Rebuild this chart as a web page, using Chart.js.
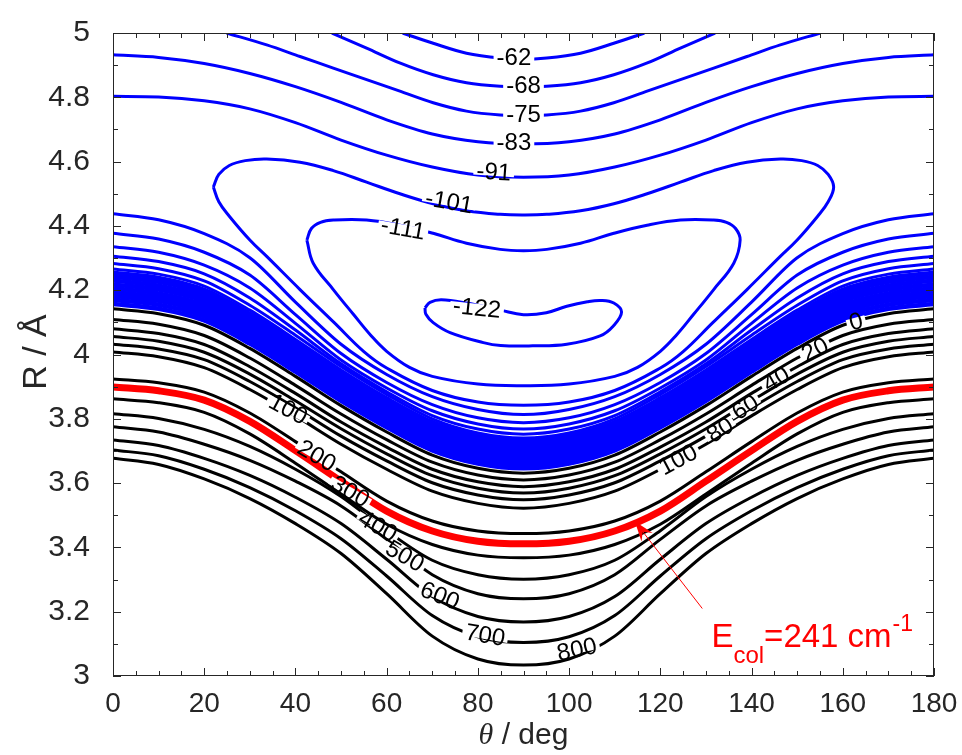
<!DOCTYPE html>
<html>
<head>
<meta charset="utf-8">
<script src="https://cdn.jsdelivr.net/npm/chart.js@4.4.0/dist/chart.umd.min.js"></script>
<style>
  body { margin: 0; background: #fff; }
  canvas { display: block; }
</style>
</head>
<body>
<canvas id="contours" width="962" height="755"></canvas>
<script>
// theta grid used by the open contours (deg)
const thetaGrid = [0,10,20,30,40,50,60,70,80,90,100,110,120,130,140,150,160,170,180];

// upper blue contours, partly leaving through the top edge
const thM62 = [63.5,70.2,77.5,84.9,90,95.1,102.5,109.8,116.5];
const rM62 = [5.0,4.968,4.937,4.922,4.918,4.922,4.937,4.968,5.0];
const thM68 = [48,55.6,63,70.2,77.5,84.9,90,95.1,102.5,109.8,117,124.4,132];
const rM68 = [5.0,4.953,4.906,4.870,4.845,4.834,4.832,4.834,4.845,4.870,4.906,4.953,5.0];
const thM75 = [24.9,33.7,41,48.3,55.6,62.9,70.2,77.5,84.9,90,95.1,102.5,109.8,117.1,124.4,131.7,139,146.3,155.1];
const rM75 = [5.0,4.963,4.927,4.891,4.855,4.819,4.783,4.757,4.745,4.743,4.745,4.757,4.783,4.819,4.855,4.891,4.927,4.963,5.0];
const rM83 = [4.932,4.924,4.905,4.874,4.833,4.784,4.730,4.686,4.662,4.655,4.662,4.686,4.730,4.784,4.833,4.874,4.905,4.924,4.932];
const rM91 = [4.803,4.801,4.789,4.764,4.721,4.667,4.620,4.583,4.558,4.551,4.558,4.583,4.620,4.667,4.721,4.764,4.789,4.801,4.803];

// closed loops (-101, -111, -122)
const thM101 = [22,23.2,25.5,29,33.7,41,48.3,55.6,62.9,70.2,77.5,84.9,90,95.1,102.5,109.8,117.1,124.4,131.7,139,146.3,151,154.5,156.8,158,
  156.8,154.5,150,146.3,139,131.5,125,120,110,100,90,80,70,60,55,48.5,41,33.7,30,25.5,23.2,22];
const rM101 = [4.521,4.560,4.588,4.603,4.608,4.598,4.572,4.536,4.500,4.469,4.447,4.436,4.434,4.436,4.447,4.469,4.500,4.536,4.572,4.598,4.608,4.603,4.588,4.560,4.521,
  4.475,4.430,4.356,4.305,4.202,4.099,4.009,3.958,3.888,3.852,3.842,3.852,3.888,3.958,4.009,4.099,4.202,4.305,4.356,4.430,4.475,4.521];
const thM111 = [42.5,43.5,45.5,48.3,55.6,62.9,70.2,77.5,84.9,90,95.1,102.5,109.8,117.1,124.4,131.7,134.5,136.5,137.5,
  136.1,131.7,127.3,123.5,120,115,110,100,90,80,70,65,60,56.5,52.7,48.3,43.9,42.5];
const rM111 = [4.356,4.392,4.411,4.418,4.418,4.402,4.377,4.346,4.327,4.323,4.327,4.346,4.377,4.402,4.418,4.418,4.411,4.392,4.356,
  4.284,4.202,4.125,4.060,4.010,3.960,3.932,3.908,3.903,3.908,3.932,3.960,4.010,4.060,4.125,4.202,4.284,4.356];
const thM122 = [68.4,69.5,72,77.5,84.9,90,95,99.5,104,107,109.8,111.5,109.7,106.8,99.5,92,85,81.2,73.9,70.2,68.6,68.4];
const rM122 = [4.145,4.162,4.170,4.160,4.138,4.124,4.130,4.150,4.164,4.168,4.160,4.132,4.089,4.058,4.032,4.027,4.028,4.037,4.068,4.099,4.125,4.145];

// lower blue open contours
const rB1 = [4.438,4.419,4.376,4.301,4.163,4.032,3.938,3.869,3.829,3.813,3.829,3.869,3.938,4.032,4.163,4.301,4.376,4.419,4.438];
const rB2 = [4.377,4.359,4.318,4.247,4.124,4.003,3.913,3.844,3.803,3.788,3.803,3.844,3.913,4.003,4.124,4.247,4.318,4.359,4.377];
const rB3 = [4.335,4.318,4.278,4.207,4.097,3.983,3.896,3.825,3.784,3.768,3.784,3.825,3.896,3.983,4.097,4.207,4.278,4.318,4.335];
const rB4 = [4.306,4.289,4.251,4.176,4.076,3.971,3.884,3.810,3.768,3.752,3.768,3.810,3.884,3.971,4.076,4.176,4.251,4.289,4.306];
const rB5 = [4.283,4.267,4.229,4.153,4.060,3.963,3.876,3.800,3.756,3.740,3.756,3.800,3.876,3.963,4.060,4.153,4.229,4.267,4.283];
const rB6 = [4.266,4.250,4.213,4.138,4.047,3.952,3.866,3.792,3.749,3.733,3.749,3.792,3.866,3.952,4.047,4.138,4.213,4.250,4.266];
// dense band just below zero
const rD1 = [4.254,4.238,4.201,4.127,4.038,3.942,3.858,3.784,3.742,3.726,3.742,3.784,3.858,3.942,4.038,4.127,4.201,4.238,4.254];
const rD2 = [4.242,4.226,4.189,4.116,4.026,3.932,3.847,3.774,3.732,3.716,3.732,3.774,3.847,3.932,4.026,4.116,4.189,4.226,4.242];
const rD3 = [4.230,4.214,4.178,4.104,4.015,3.921,3.837,3.764,3.722,3.706,3.722,3.764,3.837,3.921,4.015,4.104,4.178,4.214,4.230];
const rD4 = [4.218,4.202,4.166,4.093,4.004,3.910,3.826,3.753,3.712,3.696,3.712,3.753,3.826,3.910,4.004,4.093,4.166,4.202,4.218];
const rD5 = [4.206,4.190,4.154,4.081,3.993,3.899,3.816,3.743,3.702,3.686,3.702,3.743,3.816,3.899,3.993,4.081,4.154,4.190,4.206];
const rD6 = [4.194,4.178,4.142,4.070,3.982,3.888,3.805,3.733,3.692,3.676,3.692,3.733,3.805,3.888,3.982,4.070,4.142,4.178,4.194];
const rD7 = [4.182,4.167,4.130,4.058,3.970,3.878,3.795,3.723,3.681,3.666,3.681,3.723,3.795,3.878,3.970,4.058,4.130,4.167,4.182];
const rD8 = [4.170,4.155,4.119,4.047,3.959,3.867,3.784,3.713,3.671,3.656,3.671,3.713,3.784,3.867,3.959,4.047,4.119,4.155,4.170];
const rD9 = [4.157,4.142,4.106,4.034,3.947,3.856,3.774,3.702,3.661,3.646,3.661,3.702,3.774,3.856,3.947,4.034,4.106,4.142,4.157];

// black positive contours (cm-1)
const rK0 = [4.142,4.127,4.091,4.019,3.932,3.841,3.759,3.687,3.646,3.631,3.646,3.687,3.759,3.841,3.932,4.019,4.091,4.127,4.142];
const rK20 = [4.109,4.094,4.059,3.989,3.904,3.815,3.735,3.665,3.625,3.610,3.625,3.665,3.735,3.815,3.904,3.989,4.059,4.094,4.109];
const rK40 = [4.080,4.065,4.031,3.962,3.879,3.790,3.712,3.643,3.604,3.589,3.604,3.643,3.712,3.790,3.879,3.962,4.031,4.065,4.080];
const rK60 = [4.056,4.041,4.007,3.939,3.856,3.769,3.691,3.623,3.584,3.569,3.584,3.623,3.691,3.769,3.856,3.939,4.007,4.041,4.056];
const rK80 = [4.032,4.017,3.984,3.916,3.834,3.746,3.669,3.601,3.563,3.548,3.563,3.601,3.669,3.746,3.834,3.916,3.984,4.017,4.032];
const rK100 = [4.008,3.993,3.959,3.891,3.809,3.721,3.643,3.575,3.537,3.522,3.537,3.575,3.643,3.721,3.809,3.891,3.959,3.993,4.008];
const rK200 = [3.924,3.912,3.883,3.818,3.729,3.635,3.544,3.482,3.451,3.443,3.451,3.482,3.544,3.635,3.729,3.818,3.883,3.912,3.924];
const rK300 = [3.862,3.850,3.820,3.753,3.662,3.566,3.472,3.409,3.376,3.368,3.376,3.409,3.472,3.566,3.662,3.753,3.820,3.850,3.862];
const rK400 = [3.816,3.801,3.767,3.714,3.643,3.558,3.452,3.360,3.315,3.301,3.315,3.360,3.452,3.558,3.643,3.714,3.767,3.801,3.816];
const rK500 = [3.775,3.759,3.721,3.671,3.606,3.529,3.425,3.315,3.256,3.240,3.256,3.315,3.425,3.529,3.606,3.671,3.721,3.759,3.775];
const rK600 = [3.734,3.717,3.677,3.624,3.556,3.474,3.363,3.247,3.185,3.168,3.185,3.247,3.363,3.474,3.556,3.624,3.677,3.717,3.734];
const rK700 = [3.703,3.685,3.643,3.586,3.514,3.427,3.311,3.188,3.122,3.104,3.122,3.188,3.311,3.427,3.514,3.586,3.643,3.685,3.703];
const rK800 = [3.677,3.658,3.613,3.552,3.474,3.381,3.256,3.124,3.053,3.034,3.053,3.124,3.256,3.381,3.474,3.552,3.613,3.658,3.677];
// collision energy contour, 241 cm-1
const rCol = [3.899,3.887,3.858,3.792,3.701,3.606,3.513,3.451,3.419,3.411,3.419,3.451,3.513,3.606,3.701,3.792,3.858,3.887,3.899];

// contour labels
const labelText = ['-62','-68','-75','-83','-91','-101','-111','-122','0','20','40','60','80','100','100','200','300','400','500','600','700','800'];
const labelTheta = [87.9,90.0,90.0,87.9,83.5,73.7,63.6,79.8,162.9,153.9,145.4,138.6,133.1,123.9,38.4,44.7,52.0,58.1,64.0,71.7,81.6,101.7];
const labelR = [4.923,4.836,4.747,4.660,4.568,4.475,4.392,4.145,4.102,4.015,3.923,3.836,3.765,3.673,3.830,3.685,3.574,3.466,3.373,3.250,3.127,3.083];
const labelAngle = [0,0,0,0,4,10,10,6,-15,-27,-30,-32,-32,-28,28,30,30,30,30,22,10,-12];

// arrow + annotation (theta, R)
const arrowTail = [129.2, 3.210];
const arrowTip = [114.4, 3.481];
const annoAt = [131.2, 3.089];

const xTicks = [0, 180, 20];
const yTicks = [3, 5, 0.2];

const pts = (th, r) => th.map((t, i) => ({ x: t, y: r[i] }));

const open = (th, r, color, w = 3) => ({
  data: pts(th, r),
  borderColor: color,
  borderWidth: w,
  showLine: true,
  pointRadius: 0,
  cubicInterpolationMode: 'monotone',
  clip: 0
});

const loop = (th, r, color) => ({
  data: pts(th, r),
  borderColor: color,
  borderWidth: 3,
  showLine: true,
  pointRadius: 0,
  tension: 0.4,
  clip: 0
});

const BLUE = '#0000ff';
const BLACK = '#000000';

const datasets = [
  open(thM62, rM62, BLUE), open(thM68, rM68, BLUE), open(thM75, rM75, BLUE),
  open(thetaGrid, rM83, BLUE), open(thetaGrid, rM91, BLUE),
  loop(thM101, rM101, BLUE), loop(thM111, rM111, BLUE), loop(thM122, rM122, BLUE),
  open(thetaGrid, rB1, BLUE), open(thetaGrid, rB2, BLUE), open(thetaGrid, rB3, BLUE),
  open(thetaGrid, rB4, BLUE), open(thetaGrid, rB5, BLUE), open(thetaGrid, rB6, BLUE)
];
[rD1, rD2, rD3, rD4, rD5, rD6, rD7, rD8, rD9].forEach(r => datasets.push(open(thetaGrid, r, BLUE, 4.6)));
[rK0, rK20, rK40, rK60, rK80, rK100, rK200, rK300, rK400, rK500, rK600, rK700, rK800]
  .forEach(r => datasets.push(open(thetaGrid, r, BLACK)));
datasets.push(open(thetaGrid, rCol, '#ff0000', 7));

const SANS = '"Liberation Sans", Arial, sans-serif';
const AX = '#262626';

const decor = {
  id: 'decor',
  afterDatasetsDraw(chart) {
    const { ctx, scales: { x, y } } = chart;
    ctx.save();
    ctx.font = '24px ' + SANS;
    ctx.textAlign = 'center';
    ctx.textBaseline = 'middle';
    labelText.forEach((txt, i) => {
      const w = ctx.measureText(txt).width;
      ctx.save();
      ctx.translate(x.getPixelForValue(labelTheta[i]), y.getPixelForValue(labelR[i]));
      ctx.rotate(labelAngle[i] * Math.PI / 180);
      // break the contour under its label, like clabel does
      ctx.fillStyle = '#fff';
      ctx.fillRect(-w / 2 - 3, -4, w + 6, 8);
      ctx.fillStyle = '#000';
      ctx.fillText(txt, 0, 1);
      ctx.restore();
    });

    // arrow
    const tx = x.getPixelForValue(arrowTail[0]), ty = y.getPixelForValue(arrowTail[1]);
    const hx = x.getPixelForValue(arrowTip[0]), hy = y.getPixelForValue(arrowTip[1]);
    const a = Math.atan2(hy - ty, hx - tx);
    const c = Math.cos(a), s = Math.sin(a);
    ctx.strokeStyle = '#ff0000';
    ctx.fillStyle = '#ff0000';
    ctx.lineWidth = 1;
    ctx.beginPath();
    ctx.moveTo(tx, ty);
    ctx.lineTo(hx - 10 * c, hy - 10 * s);
    ctx.stroke();
    const L = 20, W = 7;
    ctx.beginPath();
    ctx.moveTo(hx, hy);
    ctx.lineTo(hx - L * c + W * s, hy - L * s - W * c);
    ctx.lineTo(hx - 13 * c, hy - 13 * s);
    ctx.lineTo(hx - L * c - W * s, hy - L * s + W * c);
    ctx.closePath();
    ctx.fill();

    // E_col = 241 cm^-1
    let px = x.getPixelForValue(annoAt[0]);
    const base = y.getPixelForValue(annoAt[1]);
    ctx.textAlign = 'left';
    ctx.textBaseline = 'alphabetic';
    ctx.font = '33px ' + SANS;
    ctx.fillText('E', px, base);
    px += ctx.measureText('E').width;
    ctx.font = '24px ' + SANS;
    ctx.fillText('col', px, base + 16);
    px += ctx.measureText('col').width;
    ctx.font = '33px ' + SANS;
    ctx.fillText('=241 cm', px, base);
    px += ctx.measureText('=241 cm').width + 1;
    ctx.font = '23px ' + SANS;
    ctx.fillText('-1', px, base - 16);
    ctx.restore();
  },
  afterDraw(chart) {
    const { ctx, chartArea: ca, scales: { x, y } } = chart;
    ctx.save();
    ctx.strokeStyle = AX;
    ctx.lineWidth = 1;
    ctx.strokeRect(ca.left + 0.5, ca.top + 0.5, ca.right - ca.left - 1, ca.bottom - ca.top - 1);
    ctx.beginPath();
    for (let t = 0; t <= 180; t += 5) {
      const p = Math.round(x.getPixelForValue(t)) + 0.5;
      const len = t % 20 === 0 ? 8 : 5;
      ctx.moveTo(p, ca.bottom); ctx.lineTo(p, ca.bottom - len);
      ctx.moveTo(p, ca.top); ctx.lineTo(p, ca.top + len);
    }
    for (let k = 0; k <= 20; k++) {
      const p = Math.round(y.getPixelForValue(3 + k * 0.1)) + 0.5;
      const len = k % 2 === 0 ? 8 : 5;
      ctx.moveTo(ca.left, p); ctx.lineTo(ca.left + len, p);
      ctx.moveTo(ca.right, p); ctx.lineTo(ca.right - len, p);
    }
    ctx.stroke();

    // axis titles
    ctx.fillStyle = AX;
    ctx.textBaseline = 'alphabetic';
    ctx.save();
    ctx.translate(46, 352);
    ctx.rotate(-Math.PI / 2);
    ctx.textAlign = 'center';
    ctx.font = '34px ' + SANS;
    ctx.fillText('R / Å', 0, 0);
    ctx.restore();

    ctx.textAlign = 'left';
    ctx.font = 'italic 30px "Liberation Serif", serif';
    const wT = ctx.measureText('θ').width;
    ctx.font = '30px ' + SANS;
    const wR = ctx.measureText(' / deg').width;
    let sx = (ca.left + ca.right) / 2 - (wT + wR) / 2;
    ctx.font = 'italic 30px "Liberation Serif", serif';
    ctx.fillText('θ', sx, 744);
    ctx.font = '30px ' + SANS;
    ctx.fillText(' / deg', sx + wT, 744);
    ctx.restore();
  }
};

new Chart(document.getElementById('contours'), {
  type: 'scatter',
  data: { datasets },
  options: {
    responsive: false,
    animation: false,
    events: [],
    layout: { padding: { top: 28, right: 28, left: 0, bottom: 0 } },
    plugins: { legend: { display: false }, tooltip: { enabled: false } },
    scales: {
      x: {
        type: 'linear',
        min: xTicks[0], max: xTicks[1],
        grid: { display: false },
        border: { display: false },
        ticks: { stepSize: xTicks[2], padding: 3, color: AX, font: { family: SANS, size: 28 } },
        afterFit: s => { s.height = 79; }
      },
      y: {
        type: 'linear',
        min: yTicks[0], max: yTicks[1],
        grid: { display: false },
        border: { display: false },
        ticks: {
          stepSize: yTicks[2], padding: 15, color: AX, font: { family: SANS, size: 30 },
          callback: v => String(+v.toFixed(1))
        },
        afterFit: s => { s.width = 113; }
      }
    }
  },
  plugins: [decor]
});
</script>
</body>
</html>
